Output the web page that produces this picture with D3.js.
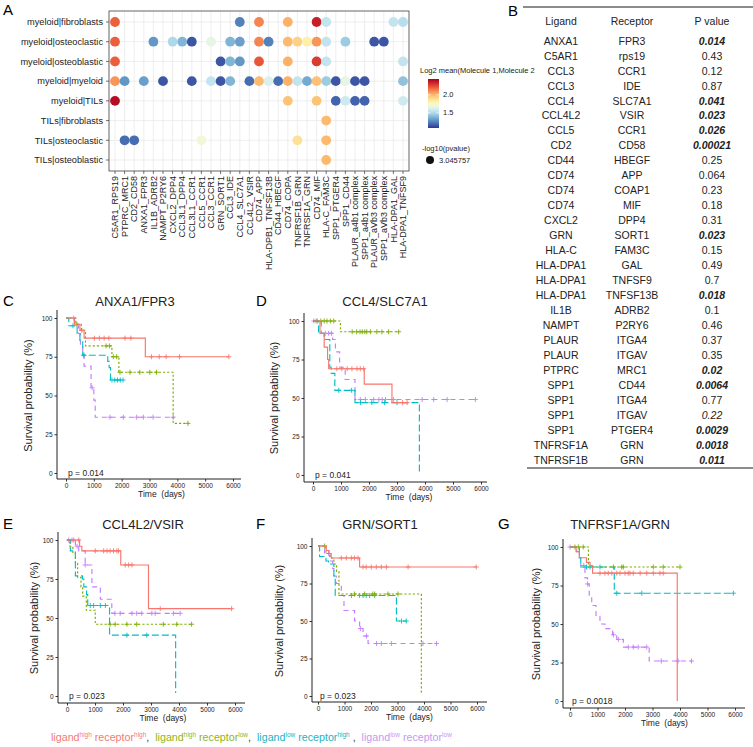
<!DOCTYPE html>
<html><head><meta charset="utf-8">
<script src="https://cdn.jsdelivr.net/npm/d3@7"></script>
<style>
body{margin:0;background:#fff}
svg{font-family:"Liberation Sans",Arial,Helvetica,sans-serif}
</style>
</head><body>
<svg id="fig" width="753" height="747"></svg>
<script>
// ---------------- Panel A data ----------------
const pairRows = ["myeloid|fibroblasts","myeloid|osteoclastic","myeloid|osteoblastic","myeloid|myeloid","myeloid|TILs","TILs|fibroblasts","TILs|osteoclastic","TILs|osteoblastic"];
const pairCols = ["C5AR1_RPS19","PTPRC_MRC1","CD2_CD58","ANXA1_FPR3","IL1B_ADRB2","NAMPT_P2RY6","CXCL2_DPP4","CCL3L1_DPP4","CCL3L1_CCR1","CCL5_CCR1","CCL3_CCR1","GRN_SORT1","CCL3_IDE","CCL4_SLC7A1","CCL4L2_VSIR","CD74_APP","HLA-DPB1_TNFSF13B","CD44_HBEGF","CD74_COPA","TNFRSF1B_GRN","TNFRSF1A_GRN","CD74_MIF","HLA-C_FAM3C","SPP1_PTGER4","SPP1_CD44","PLAUR_a4b1 complex","SPP1_a4b1 complex","PLAUR_aVb3 complex","SPP1_aVb3 complex","HLA-DPA1_GAL","HLA-DPA1_TNFSF9"];
// [row index, column index, log2 mean]
const dotCells = [
 [0,0,2.2],[0,13,1.25],[0,15,2.12],[0,18,2.02],[0,21,2.35],[0,22,1.55],[0,29,1.55],[0,30,1.52],
 [1,0,2.2],[1,4,1.3],[1,6,1.5],[1,7,1.38],[1,8,1.15],[1,10,1.66],[1,12,1.38],[1,13,1.32],[1,15,2.12],[1,16,1.25],[1,18,2.0],[1,19,1.93],[1,20,1.82],[1,21,2.08],[1,22,1.55],[1,24,1.45],[1,27,1.15],[1,28,1.15],
 [2,0,2.2],[2,11,1.15],[2,12,1.38],[2,13,1.3],[2,15,2.22],[2,18,2.02],[2,21,2.28],[2,22,1.55],[2,30,1.55],
 [3,0,2.08],[3,1,1.3],[3,3,1.32],[3,5,1.15],[3,8,1.15],[3,10,1.55],[3,11,1.15],[3,12,1.38],[3,14,1.2],[3,15,2.0],[3,16,1.62],[3,17,1.2],[3,18,2.02],[3,19,1.55],[3,20,1.35],[3,21,1.98],[3,22,1.45],[3,23,1.15],[3,24,1.66],[3,25,1.15],[3,26,1.15],[3,30,1.42],
 [4,0,2.4],[4,18,1.97],[4,21,1.97],[4,23,1.18],[4,24,1.58],[4,25,1.18],[4,26,1.18],[4,30,1.58],
 [5,22,2.0],
 [6,1,1.2],[6,2,1.2],[6,9,1.7],[6,19,1.88],[6,22,2.0],
 [7,22,2.0]
];
const colorDomain = [1.08, 2.44];
const colorTicks = [1.5, 2.0];
const sizeLegendValue = "3.045757";

// ---------------- Panel B data ----------------
const tblLigand = ["ANXA1","C5AR1","CCL3","CCL3","CCL4","CCL4L2","CCL5","CD2","CD44","CD74","CD74","CD74","CXCL2","GRN","HLA-C","HLA-DPA1","HLA-DPA1","HLA-DPA1","IL1B","NAMPT","PLAUR","PLAUR","PTPRC","SPP1","SPP1","SPP1","SPP1","TNFRSF1A","TNFRSF1B"];
const tblReceptor = ["FPR3","rps19","CCR1","IDE","SLC7A1","VSIR","CCR1","CD58","HBEGF","APP","COAP1","MIF","DPP4","SORT1","FAM3C","GAL","TNFSF9","TNFSF13B","ADRB2","P2RY6","ITGA4","ITGAV","MRC1","CD44","ITGA4","ITGAV","PTGER4","GRN","GRN"];
const tblP = ["0.014","0.43","0.12","0.87","0.041","0.023","0.026","0.00021","0.25","0.064","0.23","0.18","0.31","0.023","0.15","0.49","0.7","0.018","0.1","0.46","0.37","0.35","0.02","0.0064","0.77","0.22","0.0029","0.0018","0.011"];
const tblItalicOnly = [25];

// ---------------- KM data: [time, survival%] steps and censor times ----------------
const timeTicks = [0,1000,2000,3000,4000,5000,6000];
const survTicks = [0,25,50,75,100];

const C_hh = [[0,100],[300,96],[500,92],[650,87],[2850,75],[5850,75]];
const C_hh_c = [1020,1200,1370,1540,2120,2330,3070,3350,3600,4080,5850];
const C_hl = [[0,100],[350,96],[550,92],[700,82],[1650,75],[1900,65],[3850,32],[4400,32]];
const C_hl_c = [390,570,1440,1560,1700,1820,1940,2300,2650,3010,3250,4380];
const C_lh = [[0,100],[100,95],[400,90],[500,85],[600,76],[1500,72],[1550,68],[1600,60],[2050,60]];
const C_lh_c = [250,650,1650,1750,1850,1950,2050];
const C_ll = [[0,100],[300,95],[450,90],[520,83],[600,76],[650,69],[900,55],[1000,47],[1050,36],[3900,36]];
const C_ll_c = [280,620,940,1580,2060,2540,2780,3130,3850];

const D_hh = [[0,100],[250,92],[400,83],[520,75],[560,69],[1830,59],[2820,47],[3400,47]];
const D_hh_c = [850,1030,1220,1390,1570,1690,1810,3200,3360];
const D_hl = [[0,100],[980,93],[3060,93]];
const D_hl_c = [150,280,400,500,620,740,1400,1560,1680,1760,1850,1920,2050,2280,2460,2700,3060];
const D_lh = [[0,100],[200,92],[400,88],[600,70],[650,66],[780,55],[1500,47],[3800,2],[3800,2]];
const D_lh_c = [920,1380,1700,2100,2550,3000];
const D_ll = [[0,100],[300,92],[700,88],[800,80],[950,70],[1150,62],[1500,49],[5800,49]];
const D_ll_c = [30,110,440,560,660,1690,1870,2170,2350,2470,2590,2880,3900,4310,4790,5800];

const E_hh = [[0,100],[450,96],[530,93],[1920,84],[2910,56],[5880,56]];
const E_hh_c = [240,420,1010,1310,1430,1540,1660,1780,1840,2080,2200,2320,3330,5880];
const E_hl = [[0,100],[100,96],[210,92],[300,85],[380,76],[500,70],[560,64],[690,55],[1010,46],[4450,46]];
const E_hl_c = [1540,1720,2140,2490,3440,3920,4450];
const E_lh = [[0,100],[120,93],[300,77],[550,75],[600,70],[700,65],[740,58],[1520,39],[3880,2],[3880,2]];
const E_lh_c = [830,950,1190,1370,2140,2850];
const E_ll = [[0,100],[300,96],[420,93],[650,84],[890,70],[1190,62],[1600,53],[4040,53]];
const E_ll_c = [60,180,360,650,1710,1900,2320,2490,2670,3030,3150,3800,4040];

const F_hh = [[0,100],[310,97],[420,95],[500,92],[1570,86],[5970,86]];
const F_hh_c = [880,1070,1260,1380,1510,1700,1820,2010,2200,2390,2580,3400,5970];
const F_hl = [[0,100],[300,95],[450,92],[600,88],[700,83],[790,68],[3900,2],[3900,2]];
const F_hl_c = [250,1380,1760,2070,2140,2640,3020];
const F_lh = [[0,100],[60,93],[300,90],[400,88],[600,80],[650,67],[2960,50],[3330,50]];
const F_lh_c = [1260,1570,1700,1820,1950,2140,3150,3330];
const F_ll = [[0,100],[250,95],[450,90],[550,85],[600,80],[690,75],[880,67],[980,57],[1380,50],[1570,45],[1700,40],[1890,35],[4470,35]];
const F_ll_c = [400,1600,1830,2210,2390,2770,3960,4470];

const G_hh = [[0,100],[220,97],[340,93],[600,90],[730,88],[820,83],[3900,0],[3900,0]];
const G_hh_c = [1090,1270,1390,1520,1700,1820,2000,2120,2180,2300,2550,2790,3030,3270,3390];
const G_hl = [[0,100],[670,87],[4000,87]];
const G_hl_c = [180,300,480,1580,1880,1940,3030,3390,4000];
const G_lh = [[0,100],[340,93],[390,87],[1610,70],[5940,70]];
const G_lh_c = [600,730,1090,1700,2610,5940];
const G_ll = [[0,100],[240,97],[340,93],[390,88],[545,80],[640,76],[700,68],[790,62],[945,55],[1090,50],[1270,47],[1550,43],[1700,40],[1940,35],[2880,26],[4420,26]];
const G_ll_c = [0,500,640,1580,1760,2120,2300,2480,2790,3320,3930,4420];

const kmTitles = ["ANXA1/FPR3","CCL4/SLC7A1","CCL4L2/VSIR","GRN/SORT1","TNFRSF1A/GRN"];
const kmPvals = ["p = 0.014","p = 0.041","p = 0.023","p = 0.023","p = 0.0018"];
const groupNames = [["high","high"],["high","low"],["low","high"],["low","low"]];

// ---------------- drawing ----------------
const svg = d3.select("#fig");
const dark = "#333";

// ===== Panel A =====
svg.append("text").attr("x",3).attr("y",15).attr("font-size",15).text("A");
const px0 = 109, px1 = 409, py0 = 11, py1 = 171;
const xD = d3.scalePoint().domain(pairCols).range([115,403]);
const yD = d3.scalePoint().domain(pairRows).range([22,160]);
const colorScale = v => d3.interpolateRdYlBu(1 - (v - colorDomain[0])/(colorDomain[1]-colorDomain[0]));
const A = svg.append("g");
A.append("g").selectAll("line").data(pairCols).join("line")
  .attr("x1",d=>xD(d)).attr("x2",d=>xD(d)).attr("y1",py0).attr("y2",py1)
  .attr("stroke","#e6e6e6").attr("stroke-width",0.7);
A.append("g").selectAll("line").data(pairRows).join("line")
  .attr("y1",d=>yD(d)).attr("y2",d=>yD(d)).attr("x1",px0).attr("x2",px1)
  .attr("stroke","#e6e6e6").attr("stroke-width",0.7);
A.append("g").selectAll("circle").data(dotCells).join("circle")
  .attr("cx",d=>xD(pairCols[d[1]])).attr("cy",d=>yD(pairRows[d[0]])).attr("r",4.9)
  .attr("fill",d=>colorScale(d[2]));
A.append("rect").attr("x",px0).attr("y",py0).attr("width",px1-px0).attr("height",py1-py0)
  .attr("fill","none").attr("stroke","#555").attr("stroke-width",0.9);
// y axis
A.append("g").selectAll("line").data(pairRows).join("line")
  .attr("x1",px0-3).attr("x2",px0).attr("y1",d=>yD(d)).attr("y2",d=>yD(d)).attr("stroke",dark).attr("stroke-width",0.7);
A.append("g").selectAll("text").data(pairRows).join("text")
  .attr("x",px0-6).attr("y",d=>yD(d)).attr("dy","0.35em").attr("text-anchor","end")
  .attr("font-size",9.2).attr("fill","#222").text(d=>d);
// x axis
A.append("g").selectAll("line").data(pairCols).join("line")
  .attr("x1",d=>xD(d)).attr("x2",d=>xD(d)).attr("y1",py1).attr("y2",py1+3).attr("stroke",dark).attr("stroke-width",0.7);
A.append("g").selectAll("text").data(pairCols).join("text")
  .attr("transform",d=>`translate(${xD(d)+3.2},${py1+5}) rotate(-90)`)
  .attr("text-anchor","end").attr("font-size",9).attr("fill","#222").text(d=>d);
// colour legend
const lg = svg.append("g");
lg.append("text").attr("x",420).attr("y",73).attr("font-size",7.5).attr("fill","#222").text("Log2 mean(Molecule 1,Molecule 2");
const barY = d3.scaleLinear().domain(colorDomain).range([128,79]);
const grad = svg.append("defs").append("linearGradient").attr("id","cbar").attr("x1",0).attr("x2",0).attr("y1",1).attr("y2",0);
d3.range(0,1.0001,0.05).forEach(t=>grad.append("stop").attr("offset",t).attr("stop-color",d3.interpolateRdYlBu(1-t)));
lg.append("rect").attr("x",428).attr("y",barY(colorDomain[1])).attr("width",11).attr("height",barY(colorDomain[0])-barY(colorDomain[1])).attr("fill","url(#cbar)");
colorTicks.forEach(v=>{
  lg.append("line").attr("x1",428).attr("x2",430.5).attr("y1",barY(v)).attr("y2",barY(v)).attr("stroke","#fff").attr("stroke-width",0.8);
  lg.append("line").attr("x1",436.5).attr("x2",439).attr("y1",barY(v)).attr("y2",barY(v)).attr("stroke","#fff").attr("stroke-width",0.8);
  lg.append("text").attr("x",443).attr("y",barY(v)).attr("dy","0.35em").attr("font-size",7.5).attr("fill","#222").text(d3.format(".1f")(v));
});
lg.append("text").attr("x",422).attr("y",151).attr("font-size",7.5).attr("fill","#222").text("-log10(pvalue)");
lg.append("circle").attr("cx",430).attr("cy",160).attr("r",4).attr("fill","#111");
lg.append("text").attr("x",439).attr("y",160).attr("dy","0.35em").attr("font-size",7.5).attr("fill","#222").text(sizeLegendValue);

// ===== Panel B =====
svg.append("text").attr("x",508).attr("y",16).attr("font-size",15).text("B");
const B = svg.append("g");
const colX = [561,632,712];
const rowY = d3.scalePoint().domain(d3.range(tblLigand.length)).range([41,460]);
B.append("line").attr("x1",523).attr("x2",753).attr("y1",7).attr("y2",7).attr("stroke","#666").attr("stroke-width",1.3);
B.append("line").attr("x1",527).attr("x2",753).attr("y1",468).attr("y2",468).attr("stroke","#666").attr("stroke-width",1.3);
["Ligand","Receptor","P value"].forEach((h,i)=>B.append("text").attr("x",colX[i]).attr("y",21).attr("dy","0.35em").attr("text-anchor","middle").attr("font-size",10.5).attr("fill","#222").text(h));
tblLigand.forEach((l,i)=>{
  const y = rowY(i);
  B.append("text").attr("x",colX[0]).attr("y",y).attr("dy","0.35em").attr("text-anchor","middle").attr("font-size",10.5).attr("fill","#222").text(l);
  B.append("text").attr("x",colX[1]).attr("y",y).attr("dy","0.35em").attr("text-anchor","middle").attr("font-size",10.5).attr("fill","#222").text(tblReceptor[i]);
  const sig = +tblP[i] < 0.05;
  B.append("text").attr("x",colX[2]).attr("y",y).attr("dy","0.35em").attr("text-anchor","middle").attr("font-size",10.5).attr("fill","#222")
   .attr("font-weight",sig?"bold":"normal").attr("font-style",(sig||tblItalicOnly.includes(i))?"italic":"normal").text(tblP[i]);
});

// ===== KM panels =====
const seriesColor = ["#F8766D","#7CAE00","#00BFC4","#C77CFF"];
const seriesDash = [null,"2.2,2","7,3","5,4"];
const kmPanels = [
 {letter:"C",lx:3, ty:306, tx:135, title:kmTitles[0], p:kmPvals[0], xa:66, xb:233, ya:473, yb:318, left:57, right:241, axisY:479, top:310, ylabX:32, data:[[C_hh,C_hh_c],[C_hl,C_hl_c],[C_lh,C_lh_c],[C_ll,C_ll_c]]},
 {letter:"D",lx:256, ty:306, tx:385, title:kmTitles[1], p:kmPvals[1], xa:313, xb:481, ya:475, yb:321, left:304, right:487, axisY:482, top:313, ylabX:278, data:[[D_hh,D_hh_c],[D_hl,D_hl_c],[D_lh,D_lh_c],[D_ll,D_ll_c]]},
 {letter:"E",lx:3, ty:529, tx:143, title:kmTitles[2], p:kmPvals[2], xa:67, xb:235, ya:696, yb:540, left:58, right:245, axisY:703, top:532, ylabX:38, data:[[E_hh,E_hh_c],[E_hl,E_hl_c],[E_lh,E_lh_c],[E_ll,E_ll_c]]},
 {letter:"F",lx:256, ty:529, tx:380, title:kmTitles[3], p:kmPvals[3], xa:318, xb:477, ya:696, yb:546, left:312, right:487, axisY:702, top:538, ylabX:283, data:[[F_hh,F_hh_c],[F_hl,F_hl_c],[F_lh,F_lh_c],[F_ll,F_ll_c]]},
 {letter:"G",lx:498, ty:529, tx:620, title:kmTitles[4], p:kmPvals[4], xa:570, xb:735, ya:701, yb:547, left:563, right:745, axisY:708, top:539, ylabX:540, data:[[G_hh,G_hh_c],[G_hl,G_hl_c],[G_lh,G_lh_c],[G_ll,G_ll_c]]}
];

function survAt(steps, t){ let s = steps[0][1]; for(const d of steps){ if(d[0] <= t) s = d[1]; } return s; }

kmPanels.forEach(cfg=>{
  const g = svg.append("g");
  const x = d3.scaleLinear().domain([0,6000]).range([cfg.xa,cfg.xb]);
  const y = d3.scaleLinear().domain([0,100]).range([cfg.ya,cfg.yb]);
  g.append("text").attr("x",cfg.lx).attr("y",cfg.ty).attr("font-size",15).text(cfg.letter);
  g.append("text").attr("x",cfg.tx).attr("y",cfg.ty).attr("text-anchor","middle").attr("font-size",13).attr("fill","#222").text(cfg.title);
  // axes
  const xa = g.append("g").attr("transform",`translate(0,${cfg.axisY})`)
    .call(d3.axisBottom(x).tickValues(timeTicks).tickSize(2.5).tickPadding(2).tickFormat(d3.format("d")));
  xa.select(".domain").remove();
  xa.selectAll("text").attr("font-size",6.5).attr("fill","#222").attr("font-family","Liberation Sans, Arial, sans-serif");
  xa.selectAll("line").attr("stroke",dark);
  const ya = g.append("g").attr("transform",`translate(${cfg.left},0)`)
    .call(d3.axisLeft(y).tickValues(survTicks).tickSize(2.5).tickPadding(2));
  ya.select(".domain").remove();
  ya.selectAll("text").attr("font-size",6.5).attr("fill","#222").attr("font-family","Liberation Sans, Arial, sans-serif");
  ya.selectAll("line").attr("stroke",dark);
  g.append("line").attr("x1",cfg.left).attr("x2",cfg.right).attr("y1",cfg.axisY).attr("y2",cfg.axisY).attr("stroke","#222").attr("stroke-width",1);
  g.append("line").attr("x1",cfg.left).attr("x2",cfg.left).attr("y1",cfg.top).attr("y2",cfg.axisY).attr("stroke","#222").attr("stroke-width",1);
  // labels
  g.append("text").attr("transform",`translate(${cfg.ylabX},${(cfg.ya+cfg.yb)/2}) rotate(-90)`).attr("text-anchor","middle").attr("font-size",11).attr("fill","#222").text("Survival probability (%)");
  g.append("text").attr("x",(cfg.xa+cfg.xb)/2+12).attr("y",cfg.axisY+18).attr("text-anchor","middle").attr("font-size",8.5).attr("fill","#222").style("white-space","pre").text("Time  (days)");
  g.append("text").attr("x",cfg.xa+2).attr("y",cfg.ya).attr("dy","0.35em").attr("font-size",8.5).attr("fill","#222").text(cfg.p);
  // curves (draw purple first, red last)
  const line = d3.line().x(d=>x(d[0])).y(d=>y(d[1])).curve(d3.curveStepAfter);
  [3,2,1,0].forEach(k=>{
    const [steps, cens] = cfg.data[k];
    g.append("path").attr("d",line(steps)).attr("fill","none").attr("stroke",seriesColor[k]).attr("stroke-width",1.15)
      .attr("stroke-dasharray",seriesDash[k]);
    g.append("g").selectAll("path").data(cens).join("path")
      .attr("d",t=>{const cx=x(t), cy=y(survAt(steps,t)); return `M${cx-2.5},${cy}H${cx+2.5}M${cx},${cy-2.5}V${cy+2.5}`;})
      .attr("stroke",seriesColor[k]).attr("stroke-width",0.9);
  });
});

// ===== bottom legend =====
const legColors = ["#F07C76","#8FB51A","#1CB4C2","#C39AF0"];
const lt = svg.append("text").attr("x",51).attr("y",741).attr("font-size",10.7).style("white-space","pre");
groupNames.forEach((gname,i)=>{
  lt.append("tspan").attr("fill",legColors[i]).text("ligand");
  lt.append("tspan").attr("fill",legColors[i]).attr("font-size",6.5).attr("dy",-4.5).text(gname[0]);
  lt.append("tspan").attr("fill",legColors[i]).attr("dy",4.5).text(" receptor");
  lt.append("tspan").attr("fill",legColors[i]).attr("font-size",6.5).attr("dy",-4.5).text(gname[1]);
  lt.append("tspan").attr("fill","#444").attr("dy",4.5).text(i<3 ? (i==2 ? " ,  " : ",  ") : "");
});
</script>
</body></html>
